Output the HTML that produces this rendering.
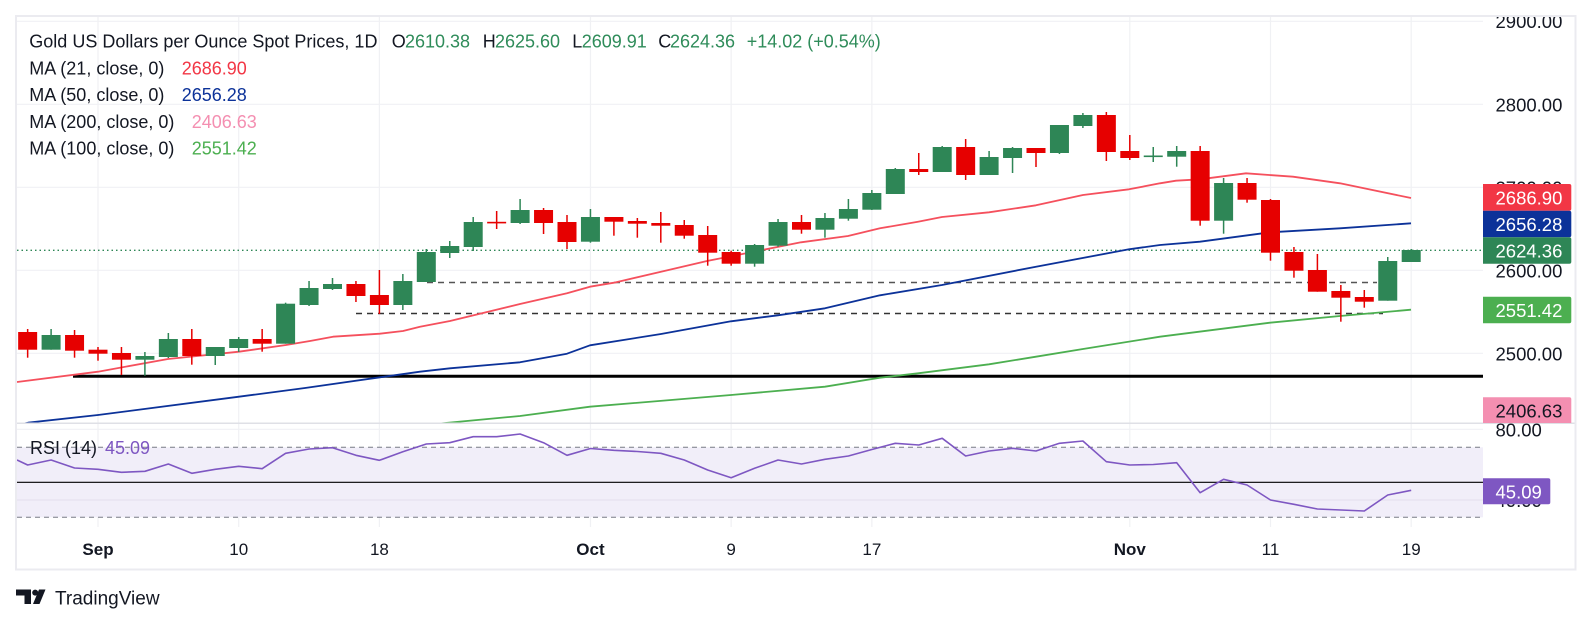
<!DOCTYPE html>
<html><head><meta charset="utf-8"><style>
html,body{margin:0;padding:0;background:#fff;width:1592px;height:625px;overflow:hidden}
svg{display:block}
text{font-family:"Liberation Sans",sans-serif}
</style></head><body>
<svg width="1592" height="625" viewBox="0 0 1592 625" xmlns="http://www.w3.org/2000/svg">
<defs>
<clipPath id="cm"><rect x="17" y="17" width="1466" height="406"/></clipPath>
<clipPath id="cr"><rect x="17" y="424" width="1466" height="103"/></clipPath>
<clipPath id="ca"><rect x="1483" y="17" width="92" height="510"/></clipPath>
</defs>
<rect width="1592" height="625" fill="#fff"/>
<!-- grid -->
<g stroke="#f0f1f4" stroke-width="1.2">
<line x1="17" y1="21.3" x2="1483" y2="21.3"/>
<line x1="17" y1="104.3" x2="1483" y2="104.3"/>
<line x1="17" y1="187.3" x2="1483" y2="187.3"/>
<line x1="17" y1="270.3" x2="1483" y2="270.3"/>
<line x1="17" y1="353.3" x2="1483" y2="353.3"/>
<line x1="17" y1="429.3" x2="1483" y2="429.3"/>
<line x1="98" y1="17" x2="98" y2="527"/>
<line x1="238.7" y1="17" x2="238.7" y2="527"/>
<line x1="379.4" y1="17" x2="379.4" y2="527"/>
<line x1="590.45" y1="17" x2="590.45" y2="527"/>
<line x1="731.15" y1="17" x2="731.15" y2="527"/>
<line x1="871.85" y1="17" x2="871.85" y2="527"/>
<line x1="1129.8" y1="17" x2="1129.8" y2="527"/>
<line x1="1270.5" y1="17" x2="1270.5" y2="527"/>
<line x1="1411.2" y1="17" x2="1411.2" y2="527"/>
</g>
<!-- RSI band -->
<rect x="17" y="447.3" width="1466" height="70" fill="#f1eef9"/>
<line x1="17" y1="500" x2="1483" y2="500" stroke="#e6e2f0" stroke-width="1.2"/>
<line x1="17" y1="447.3" x2="1483" y2="447.3" stroke="#787b86" stroke-width="1" stroke-dasharray="5 4"/>
<line x1="17" y1="517.3" x2="1483" y2="517.3" stroke="#787b86" stroke-width="1" stroke-dasharray="5 4"/>
<line x1="17" y1="482.3" x2="1483" y2="482.3" stroke="#000" stroke-width="1.2"/>
<g clip-path="url(#cr)">
<polyline fill="none" stroke="#7e57c2" stroke-width="1.6" stroke-linejoin="round" points="17,460 27.65,465 51.1,460 74.55,468 98,469.3 121.45,472.3 144.9,471.3 168.35,464 191.8,473.3 215.25,469.3 238.7,466.3 262.15,468.7 285.6,453.3 309.05,449 332.5,447.7 355.95,455.3 379.4,460.3 402.85,451.7 426.3,444 449.75,442.7 473.2,436.7 496.65,436.7 520.1,434 543.55,442.7 567,455.3 590.45,448.5 613.9,450.3 637.35,451.5 660.8,453.3 684.25,460 707.7,470 731.15,477.7 754.6,468.3 778.05,460 801.5,464 824.95,459.3 848.4,456 871.85,449.5 895.3,443.3 918.75,445 942.2,438.3 965.65,456 989.1,451 1012.55,448.3 1036,451 1059.45,443.3 1082.9,441 1106.35,461.7 1129.8,465 1153.25,464.5 1176.7,462.7 1200.15,492.7 1223.6,479.3 1247.05,485 1270.5,500 1293.95,504.3 1317.4,509 1340.85,510 1364.3,511 1387.75,495 1411.2,490.3"/>
</g>
<!-- main pane -->
<g clip-path="url(#cm)">
<line x1="17" y1="250.3" x2="1483" y2="250.3" stroke="#2e8656" stroke-width="1.3" stroke-dasharray="1.5 3"/>
<line x1="427" y1="282.5" x2="1377" y2="282.5" stroke="#555" stroke-width="1.5" stroke-dasharray="6 5"/>
<line x1="356" y1="313.5" x2="1383" y2="313.5" stroke="#333" stroke-width="1.5" stroke-dasharray="6 5"/>
<line x1="73" y1="376.3" x2="1483" y2="376.3" stroke="#000" stroke-width="3"/>
<polyline fill="none" stroke="#f5505d" stroke-width="1.8" stroke-linejoin="round" points="17,382 98,371.7 168,359 239,351.7 286,345 310,341 333,336.7 380,333.7 403,331 420,326.7 450,321 520,304 567,293.3 590,286.7 614,282.7 661,271.7 707,261 754,251.7 801,242.3 848,236 880,228.3 918,221.7 942,217 989,212.3 1036,205.3 1083,195 1129,189.3 1160,183.3 1176,180.7 1200,179.3 1246,173.3 1293,176.7 1340,183.3 1364,188.3 1411,198"/>
<polyline fill="none" stroke="#0c3299" stroke-width="1.8" stroke-linejoin="round" points="17,425 28,422.7 98,415 239,396.7 305,388 380,377.3 420,371.7 450,368.3 520,362.3 567,353.7 590,345.3 661,334 731,321.3 778,315.3 825,308.3 880,295.3 942,285 1036,266.7 1129,249.3 1160,245 1200,241.7 1270,232.3 1340,228.3 1411,223.3"/>
<polyline fill="none" stroke="#4caf50" stroke-width="1.8" stroke-linejoin="round" points="440,423.5 520,416 590,406.7 731,395 825,386.7 880,377.7 918,373.3 989,364.3 1036,356.7 1083,349 1160,336.7 1270,322.7 1340,316 1411,309.7"/>
<!-- red candles -->
<g fill="#e60000">
<rect x="26.9" y="329" width="1.5" height="28.7"/><rect x="18.15" y="332" width="19" height="17.7"/>
<rect x="73.8" y="330" width="1.5" height="27.7"/><rect x="65.05" y="335" width="19" height="15.7"/>
<rect x="97.25" y="347" width="1.5" height="13.7"/><rect x="88.5" y="349.7" width="19" height="4"/>
<rect x="120.7" y="347" width="1.5" height="28"/><rect x="111.95" y="353" width="19" height="6.7"/>
<rect x="191.05" y="329" width="1.5" height="35.7"/><rect x="182.3" y="339" width="19" height="17"/>
<rect x="261.4" y="329" width="1.5" height="22.7"/><rect x="252.65" y="339" width="19" height="4.7"/>
<rect x="355.2" y="281" width="1.5" height="21"/><rect x="346.45" y="284" width="19" height="12"/>
<rect x="378.65" y="270" width="1.5" height="44"/><rect x="369.9" y="295" width="19" height="10"/>
<rect x="495.9" y="211" width="1.5" height="18"/><rect x="487.15" y="221.8" width="19" height="1.6"/>
<rect x="542.8" y="208" width="1.5" height="26"/><rect x="534.05" y="210" width="19" height="13"/>
<rect x="566.25" y="215" width="1.5" height="34"/><rect x="557.5" y="222" width="19" height="20"/>
<rect x="613.15" y="217" width="1.5" height="18.7"/><rect x="604.4" y="217" width="19" height="4.7"/>
<rect x="636.6" y="218" width="1.5" height="19.7"/><rect x="627.85" y="221" width="19" height="2.7"/>
<rect x="660.05" y="212" width="1.5" height="30.7"/><rect x="651.3" y="223" width="19" height="2.7"/>
<rect x="683.5" y="220" width="1.5" height="18.7"/><rect x="674.75" y="225" width="19" height="10.7"/>
<rect x="706.95" y="226" width="1.5" height="39.7"/><rect x="698.2" y="235" width="19" height="17.7"/>
<rect x="730.4" y="250.7" width="1.5" height="15"/><rect x="721.65" y="252" width="19" height="11.7"/>
<rect x="800.75" y="215" width="1.5" height="18.7"/><rect x="792" y="222" width="19" height="7.7"/>
<rect x="918" y="153" width="1.5" height="22"/><rect x="909.25" y="169" width="19" height="3"/>
<rect x="964.9" y="139" width="1.5" height="41"/><rect x="956.15" y="147" width="19" height="28"/>
<rect x="1035.25" y="148" width="1.5" height="19"/><rect x="1026.5" y="148" width="19" height="5"/>
<rect x="1105.6" y="112" width="1.5" height="49"/><rect x="1096.85" y="115" width="19" height="37"/>
<rect x="1129.05" y="135" width="1.5" height="25"/><rect x="1120.3" y="151" width="19" height="7"/>
<rect x="1199.4" y="146" width="1.5" height="79.7"/><rect x="1190.65" y="151" width="19" height="69.7"/>
<rect x="1246.3" y="178" width="1.5" height="24.7"/><rect x="1237.55" y="183" width="19" height="16.7"/>
<rect x="1269.75" y="199" width="1.5" height="61.7"/><rect x="1261" y="200" width="19" height="52.7"/>
<rect x="1293.2" y="247" width="1.5" height="30.7"/><rect x="1284.45" y="252" width="19" height="18.7"/>
<rect x="1316.65" y="254" width="1.5" height="37.7"/><rect x="1307.9" y="270" width="19" height="21.7"/>
<rect x="1340.1" y="285" width="1.5" height="36.7"/><rect x="1331.35" y="291" width="19" height="6.7"/>
<rect x="1363.55" y="290" width="1.5" height="17.7"/><rect x="1354.8" y="297" width="19" height="4.7"/>
</g>
<!-- green candles -->
<g fill="#2e8656">
<rect x="50.35" y="329" width="1.5" height="20.7"/><rect x="41.6" y="335" width="19" height="14.7"/>
<rect x="144.15" y="352" width="1.5" height="23.7"/><rect x="135.4" y="356" width="19" height="3.7"/>
<rect x="167.6" y="333" width="1.5" height="25"/><rect x="158.85" y="339" width="19" height="18"/>
<rect x="214.5" y="347" width="1.5" height="18"/><rect x="205.75" y="347" width="19" height="9"/>
<rect x="237.95" y="337" width="1.5" height="15"/><rect x="229.2" y="339" width="19" height="9"/>
<rect x="284.85" y="302.7" width="1.5" height="41"/><rect x="276.1" y="303.7" width="19" height="40"/>
<rect x="308.3" y="281" width="1.5" height="25"/><rect x="299.55" y="288" width="19" height="17"/>
<rect x="331.75" y="278" width="1.5" height="12"/><rect x="323" y="284" width="19" height="5"/>
<rect x="402.1" y="274" width="1.5" height="36"/><rect x="393.35" y="281" width="19" height="24"/>
<rect x="425.55" y="249" width="1.5" height="33"/><rect x="416.8" y="252" width="19" height="30"/>
<rect x="449" y="241" width="1.5" height="17"/><rect x="440.25" y="246" width="19" height="7"/>
<rect x="472.45" y="217" width="1.5" height="34"/><rect x="463.7" y="222" width="19" height="25"/>
<rect x="519.35" y="199" width="1.5" height="25"/><rect x="510.6" y="210" width="19" height="13"/>
<rect x="589.7" y="209" width="1.5" height="33.7"/><rect x="580.95" y="217" width="19" height="24.7"/>
<rect x="753.85" y="244" width="1.5" height="22.7"/><rect x="745.1" y="245" width="19" height="18.7"/>
<rect x="777.3" y="219" width="1.5" height="27.7"/><rect x="768.55" y="222" width="19" height="23.7"/>
<rect x="824.2" y="213" width="1.5" height="24.7"/><rect x="815.45" y="218" width="19" height="11.7"/>
<rect x="847.65" y="199" width="1.5" height="21.7"/><rect x="838.9" y="209" width="19" height="9.7"/>
<rect x="871.1" y="190" width="1.5" height="20"/><rect x="862.35" y="193" width="19" height="16.7"/>
<rect x="894.55" y="168" width="1.5" height="26"/><rect x="885.8" y="169" width="19" height="25"/>
<rect x="941.45" y="146" width="1.5" height="26"/><rect x="932.7" y="147" width="19" height="25"/>
<rect x="988.35" y="151" width="1.5" height="24"/><rect x="979.6" y="157" width="19" height="18"/>
<rect x="1011.8" y="147" width="1.5" height="26"/><rect x="1003.05" y="148" width="19" height="10"/>
<rect x="1058.7" y="125" width="1.5" height="29"/><rect x="1049.95" y="125" width="19" height="28"/>
<rect x="1082.15" y="113" width="1.5" height="15"/><rect x="1073.4" y="115" width="19" height="11"/>
<rect x="1152.5" y="147" width="1.5" height="15"/><rect x="1143.75" y="155.5" width="19" height="1.6"/>
<rect x="1175.95" y="146" width="1.5" height="20.7"/><rect x="1167.2" y="151" width="19" height="5.7"/>
<rect x="1222.85" y="178" width="1.5" height="55.7"/><rect x="1214.1" y="183" width="19" height="37.7"/>
<rect x="1387" y="257" width="1.5" height="43.7"/><rect x="1378.25" y="261" width="19" height="39.7"/>
<rect x="1410.45" y="249" width="1.5" height="13"/><rect x="1401.7" y="250" width="19" height="12"/>
</g>
</g>
<!-- pane separator -->
<line x1="17" y1="423.3" x2="1575" y2="423.3" stroke="#dfe0e6" stroke-width="1.5"/>
<!-- right axis -->
<g clip-path="url(#ca)" font-size="18.5" fill="#131722">
<text x="1495.5" y="28">2900.00</text>
<text x="1495.5" y="111.3">2800.00</text>
<text x="1495.5" y="194.3">2700.00</text>
<text x="1495.5" y="277.3">2600.00</text>
<text x="1495.5" y="360.3">2500.00</text>
<text x="1495.5" y="436.3">80.00</text>
<text x="1495.5" y="507">40.00</text>
<path d="M1483,184 H1569.3 a2,2 0 0 1 2,2 V208.7 a2,2 0 0 1 -2,2 H1483Z" fill="#f23645"/>
<path d="M1483,210.7 H1569.3 a2,2 0 0 1 2,2 V235.3 a2,2 0 0 1 -2,2 H1483Z" fill="#0c3299"/>
<path d="M1483,237.3 H1569.3 a2,2 0 0 1 2,2 V261.7 a2,2 0 0 1 -2,2 H1483Z" fill="#2e8656"/>
<path d="M1483,296.7 H1569.3 a2,2 0 0 1 2,2 V321.3 a2,2 0 0 1 -2,2 H1483Z" fill="#4caf50"/>
<path d="M1483,397.3 H1569.3 a2,2 0 0 1 2,2 V423 H1483Z" fill="#f48fb1"/>
<path d="M1483,478.3 H1548.3 a2,2 0 0 1 2,2 V502.3 a2,2 0 0 1 -2,2 H1483Z" fill="#7e57c2"/>
<text x="1495.5" y="204.4" fill="#fff">2686.90</text>
<text x="1495.5" y="231" fill="#fff">2656.28</text>
<text x="1495.5" y="257.5" fill="#fff">2624.36</text>
<text x="1495.5" y="317" fill="#fff">2551.42</text>
<text x="1495.5" y="417.5" fill="#131722">2406.63</text>
<text x="1495.5" y="498.3" fill="#fff">45.09</text>
</g>
<!-- legend -->
<g font-size="18" fill="#131722">
<text x="29.3" y="47.5">Gold US Dollars per Ounce Spot Prices, 1D</text>
<text x="391.7" y="47.5">O</text><text x="405" y="47.5" fill="#2f8c5a">2610.38</text>
<text x="482.7" y="47.5">H</text><text x="495" y="47.5" fill="#2f8c5a">2625.60</text>
<text x="572.3" y="47.5">L</text><text x="581.7" y="47.5" fill="#2f8c5a">2609.91</text>
<text x="658.3" y="47.5">C</text><text x="670" y="47.5" fill="#2f8c5a">2624.36</text>
<text x="746.7" y="47.5" fill="#2f8c5a">+14.02 (+0.54%)</text>
<text x="29.3" y="74.5">MA (21, close, 0)</text><text x="181.7" y="74.5" fill="#f23645">2686.90</text>
<text x="29.3" y="101.2">MA (50, close, 0)</text><text x="181.7" y="101.2" fill="#0c3299">2656.28</text>
<text x="29.3" y="127.9">MA (200, close, 0)</text><text x="191.7" y="127.9" fill="#f48fb1">2406.63</text>
<text x="29.3" y="154.6">MA (100, close, 0)</text><text x="191.7" y="154.6" fill="#4caf50">2551.42</text>
<text x="30" y="454">RSI (14)</text><text x="105" y="454" fill="#7e57c2">45.09</text>
</g>
<!-- time axis -->
<g font-size="17" fill="#131722" text-anchor="middle">
<text x="98" y="555" font-weight="bold">Sep</text>
<text x="238.7" y="555">10</text>
<text x="379.4" y="555">18</text>
<text x="590.45" y="555" font-weight="bold">Oct</text>
<text x="731.15" y="555">9</text>
<text x="871.85" y="555">17</text>
<text x="1129.8" y="555" font-weight="bold">Nov</text>
<text x="1270.5" y="555">11</text>
<text x="1411.2" y="555">19</text>
</g>
<!-- frame -->
<rect x="16" y="16" width="1559.5" height="553.5" fill="none" stroke="#ebebf0" stroke-width="2"/>
<!-- logo -->
<g fill="#131722">
<polygon points="16,589.5 31,589.5 31,604 24.5,604 24.5,595.5 16,595.5"/>
<circle cx="35.2" cy="592.6" r="3"/>
<polygon points="39,589.5 45.5,589.5 39.5,604 33,604"/>
<text x="55" y="604.5" font-size="19">TradingView</text>
</g>
</svg>
</body></html>
